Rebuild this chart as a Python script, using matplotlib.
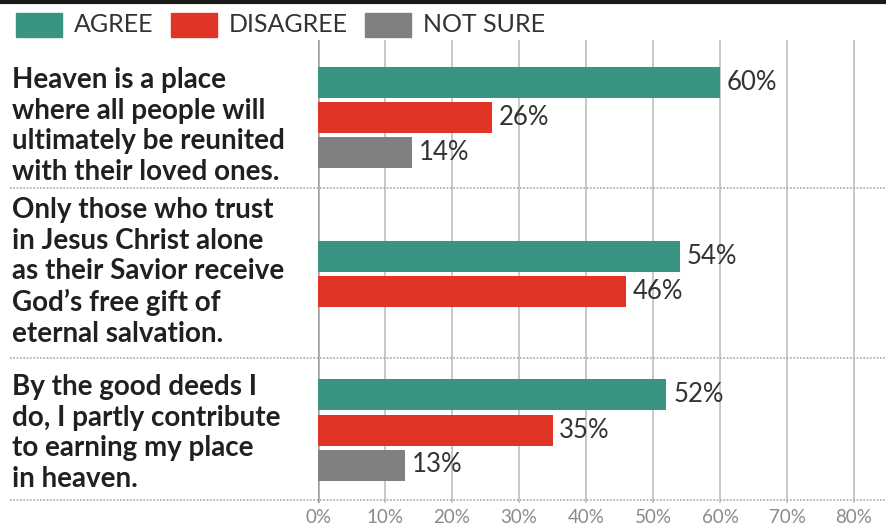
import numpy as np
import matplotlib.pyplot as plt
from matplotlib.patches import Rectangle
from matplotlib.lines import Line2D

# data
questions = [
    "Heaven is a place\nwhere all people will\nultimately be reunited\nwith their loved ones.",
    "Only those who trust\nin Jesus Christ alone\nas their Savior receive\nGod\u2019s free gift of\neternal salvation.",
    "By the good deeds I\ndo, I partly contribute\nto earning my place\nin heaven.",
]
series = ["AGREE", "DISAGREE", "NOT SURE"]
agree = [60, 54, 52]
disagree = [26, 46, 35]
not_sure = [14, None, 13]
ticks = [0, 10, 20, 30, 40, 50, 60, 70, 80]

colors = ["#3a9484", "#e03426", "#808083"]
text_c = "#231f20"

W, H = 886, 528
fig = plt.figure(figsize=(W / 100, H / 100), dpi=100)

# axes: y in pixel-like units, x in percent
top_px, bot_px = 40, 503
ax = fig.add_axes([318 / W, 1 - bot_px / H, 1 - 318 / W, (bot_px - top_px) / H])
px_per_10 = 67.0
ax.set_xlim(0, (W - 318) / px_per_10 * 10)
ax.set_ylim(bot_px, top_px)

seps = [188, 358, 500]
group_centers = [118, 274, 430]
text_centers = [126, 272, 433]
step = 35
bar_h = 31

for g, (a, d, n) in enumerate(zip(agree, disagree, not_sure)):
    vals = [a, d, n]
    present = [i for i, v in enumerate(vals) if v is not None]
    k = len(present)
    for j, i in enumerate(present):
        y = group_centers[g] + (j - (k - 1) / 2) * step
        ax.barh(y, vals[i], height=bar_h, color=colors[i], zorder=3)
        ax.text(vals[i] + 1.0, y, f"{vals[i]}%", va="center", ha="left",
                fontsize=18.5, color="#333333", family="Lato", zorder=4)

# vertical gridlines
for t in ticks:
    ax.axvline(t, color="#a0a0a0" if t == 0 else "#c4c4c4",
               lw=1.8 if t == 0 else 1.3, zorder=1)

ax.set_xticks(ticks)
ax.set_xticklabels([f"{t}%" for t in ticks], fontsize=13.5, color="#8a8a8a",
                   family="Lato")
ax.tick_params(axis="x", length=0, pad=4)
ax.set_yticks([])
for s in ax.spines.values():
    s.set_visible(False)

# dotted separators across the figure
for s in seps:
    fig.add_artist(Line2D([10 / W, 1], [1 - s / H, 1 - s / H],
                          color="#a8a8a8", lw=1.2, linestyle=(0, (1, 1))))

# question texts
for q, yc in zip(questions, text_centers):
    fig.text(12 / W, 1 - yc / H, q, ha="left", va="center", fontsize=20,
             fontweight="bold", family="Lato", color=text_c, linespacing=1.22)

# top rule
fig.add_artist(Line2D([0, 1], [1 - 1.5 / H, 1 - 1.5 / H], color="#1a1a1a", lw=3))

# legend
lx = [16, 171, 365]
for i, name in enumerate(series):
    fig.add_artist(Rectangle((lx[i] / W, 1 - 37 / H), 46 / W, 24 / H,
                             color=colors[i], transform=fig.transFigure))
    fig.text((lx[i] + 58) / W, 1 - 24 / H, name, ha="left", va="center",
             fontsize=18, color="#333333", family="Lato")

fig.savefig("out.png", dpi=100)
